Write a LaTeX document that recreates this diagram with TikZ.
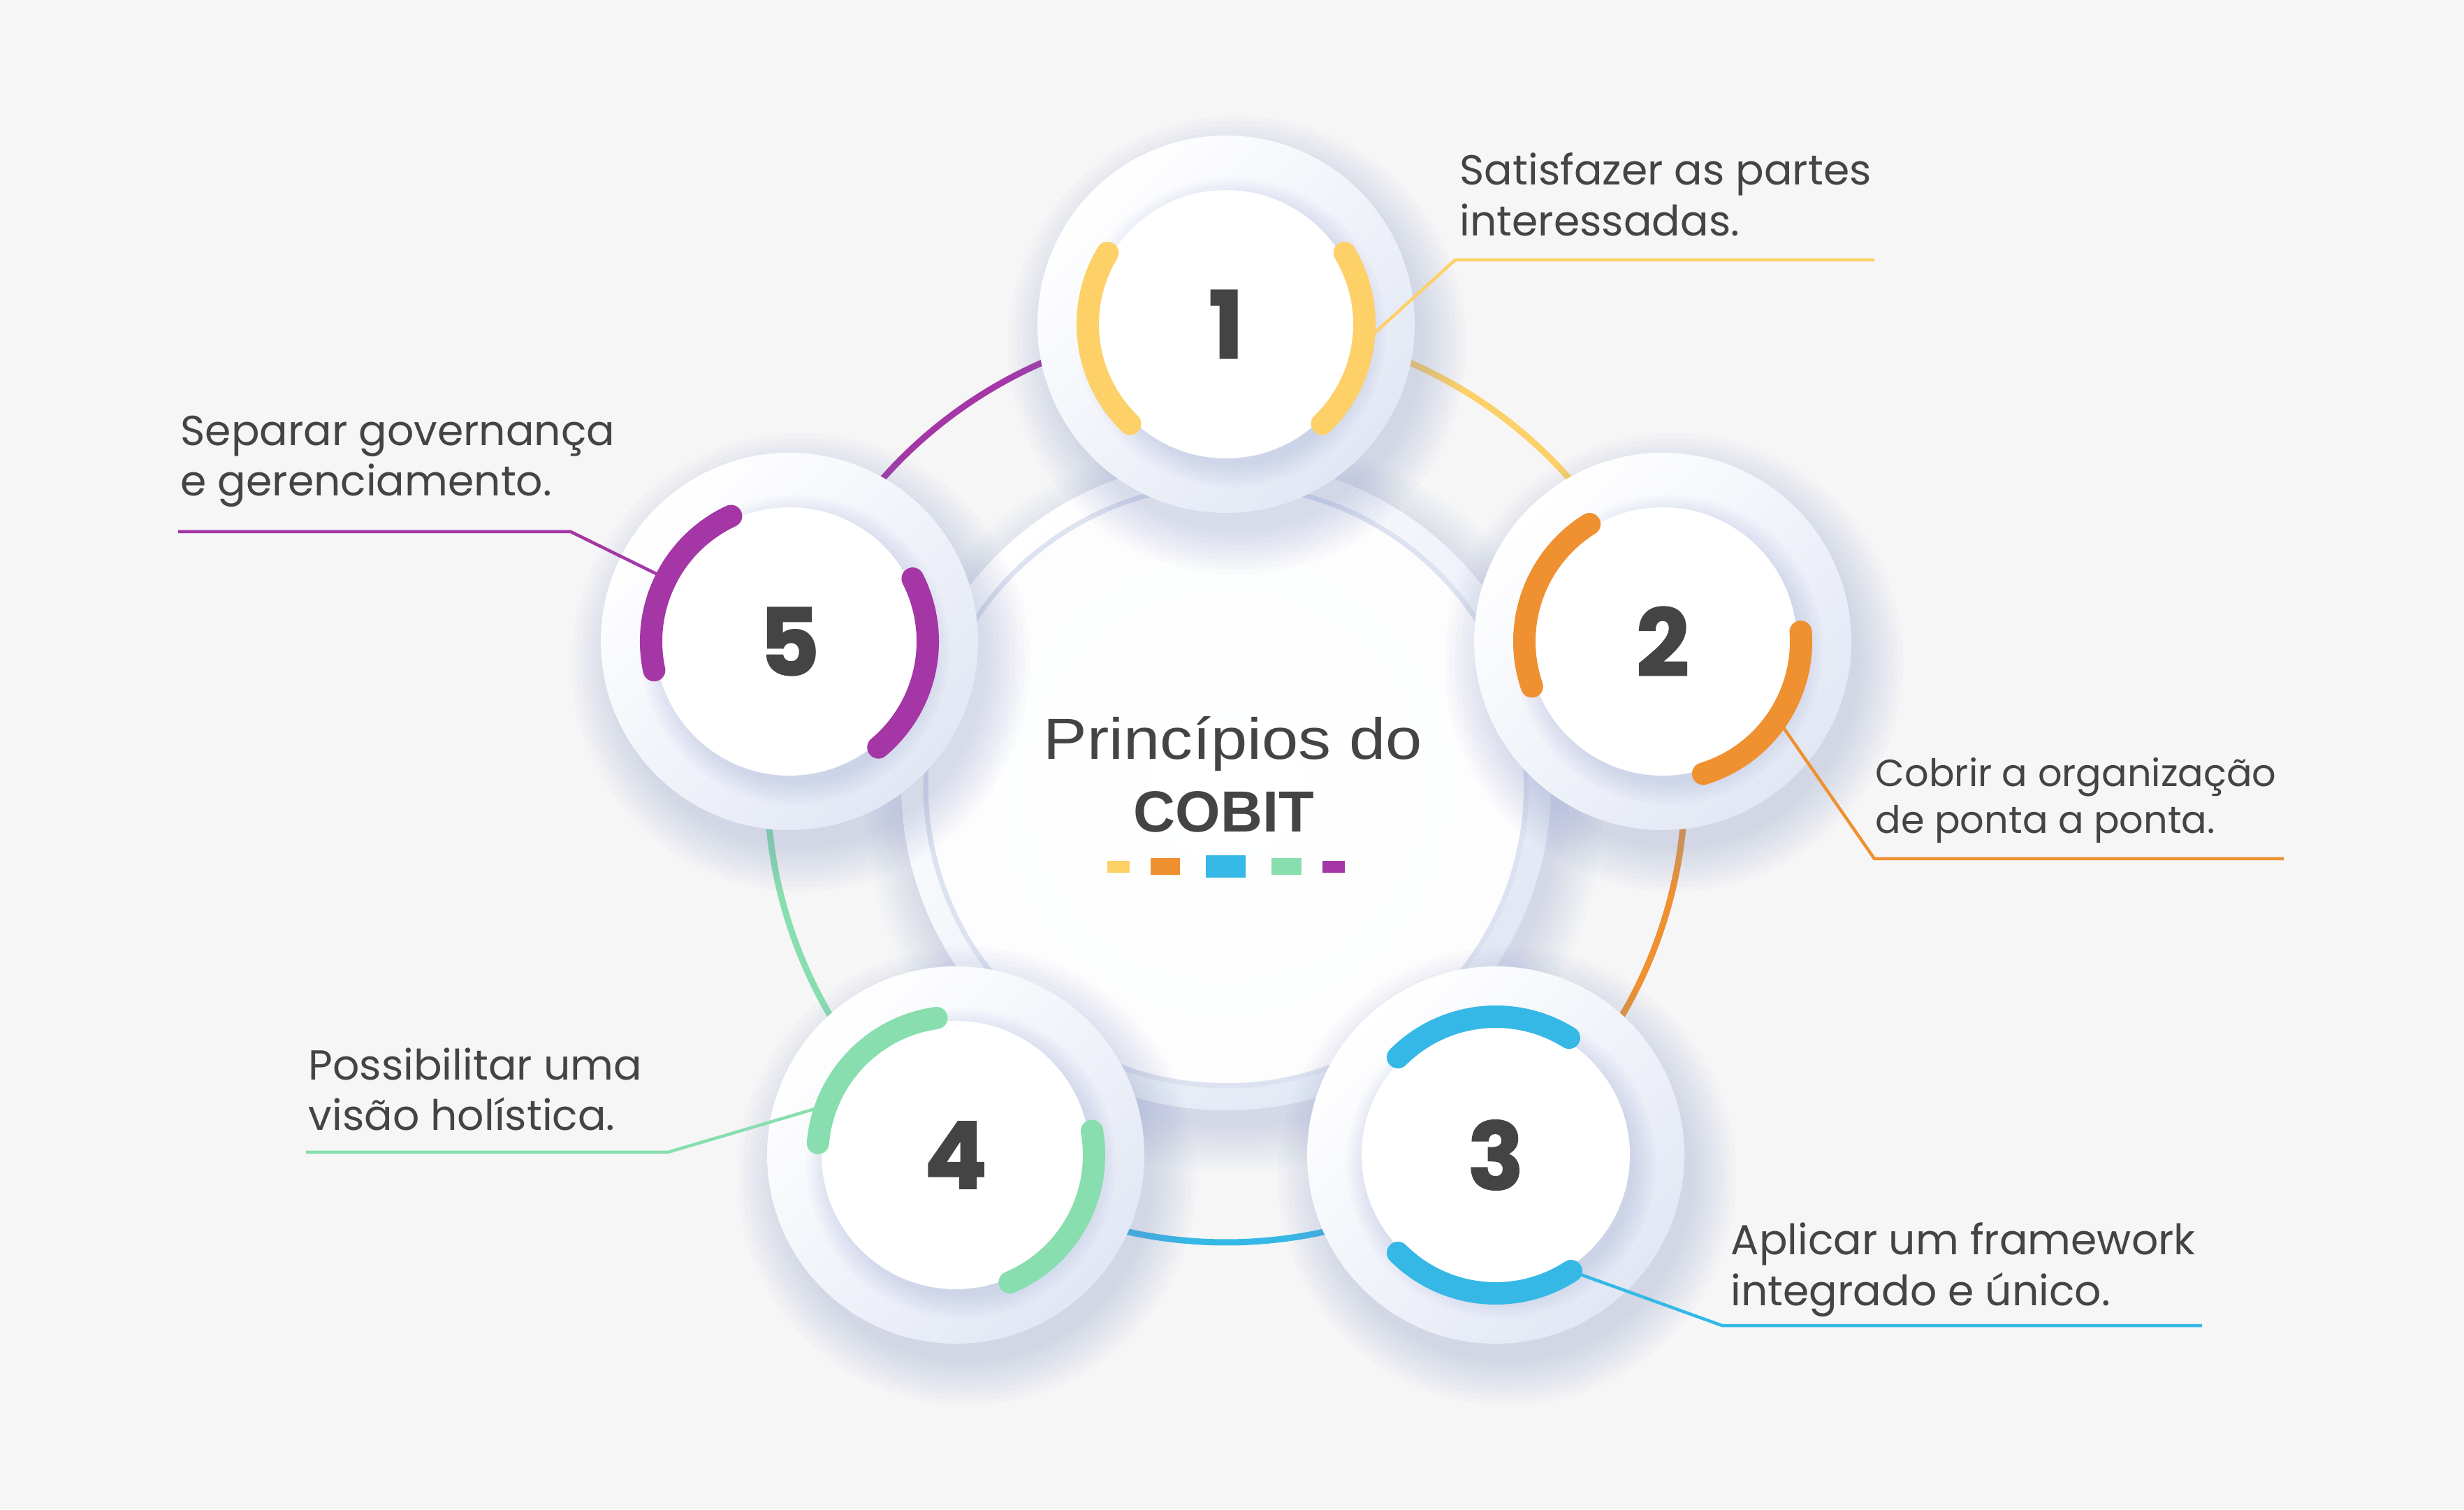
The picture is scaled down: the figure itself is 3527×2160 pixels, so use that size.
\documentclass[tikz,border=0pt]{standalone}
\usepackage{fontspec}
\setmainfont{Liberation Sans}
\newfontfamily\popfont{Poppins}
\newfontfamily\numfont{Poppins}[FakeBold=1.6]
\newfontfamily\arialfont{Liberation Sans}
\usetikzlibrary{calc}
\definecolor{bg}{HTML}{F6F6F7}
\definecolor{cy}{HTML}{FDD068}
\definecolor{co}{HTML}{EF9031}
\definecolor{cb}{HTML}{35B8E5}
\definecolor{cg}{HTML}{88DEAE}
\definecolor{cp}{HTML}{A436A5}
\definecolor{txt}{HTML}{444444}
\definecolor{shad}{HTML}{8090C8}
\definecolor{ringlow}{HTML}{E2E7F4}
\definecolor{ringline}{HTML}{DCE2F0}
\tikzset{
  link/.style={line width=0.09cm},
  lead/.style={line width=0.045cm},
  band/.style={line width=0.32cm, line cap=round},
  lab/.style={anchor=base west, inner sep=0pt, text=txt, font=\popfont\fontsize{17.07pt}{20pt}\selectfont},
  labsmall/.style={anchor=base west, inner sep=0pt, text=txt, font=\popfont\fontsize{15.4pt}{18pt}\selectfont},
  num/.style={inner sep=0pt, text=txt, font=\numfont\bfseries\fontsize{37.8pt}{40pt}\selectfont},
}
\begin{document}
\begin{tikzpicture}[x=0.01cm,y=0.01cm]
\fill[bg] (0,0) rectangle (3527,2160);
\useasboundingbox (0,0) rectangle (3527,2160);
\coordinate (P) at (1755,1039);
\coordinate (M) at (1755,1036);
\coordinate (c1) at (1755,1696);
\coordinate (c2) at (2380,1242);
\coordinate (c3) at (2141,507);
\coordinate (c4) at (1368,507);
\coordinate (c5) at (1130,1242);

% connecting ring
\draw[link,cy] (P) ++(90:657) arc[start angle=90,end angle=18,radius=657];
\draw[link,co] (P) ++(18:657) arc[start angle=18,end angle=-54,radius=657];
\draw[link,cb] (P) ++(-54:657) arc[start angle=-54,end angle=-126,radius=657];
\draw[link,cg] (P) ++(-126:657) arc[start angle=-126,end angle=-198,radius=657];
\draw[link,cp] (P) ++(162:657) arc[start angle=162,end angle=90,radius=657];

% center disc
\foreach \k in {1,...,10}
  \fill[shad,opacity=0.028] ($(M)+(12,-26)$) circle[radius=458+7*\k];
\shade[top color=white,bottom color=ringlow,shading angle=45] (M) circle[radius=465];
\draw[ringline,line width=0.07cm] (M) circle[radius=430];
\shade[inner color=white,outer color=white!92!ringlow] (M) circle[radius=426];

% small circles
\foreach \c in {c1,c2,c3,c4,c5}{
  \foreach \k in {1,...,10}
    \fill[shad,opacity=0.03] ($(\c)+(16,-30)$) circle[radius=258+7*\k];
  \shade[top color=white,bottom color=ringlow,shading angle=45] (\c) circle[radius=270];
  \foreach \k in {1,...,7}
    \fill[shad,opacity=0.035] ($(\c)+(8,-12)$) circle[radius=186+5*\k];
  \fill[white] (\c) circle[radius=192];
}

% leaders
\coordinate (a1) at ($(c1)+(-8:198)$);
\coordinate (k1) at (2083,1788);
\coordinate (e1) at (2683,1788);
\coordinate (a2) at ($(c2)+(-34:198)$);
\coordinate (k2) at (2683,931);
\coordinate (e2) at (3269,931);
\coordinate (a3) at ($(c3)+(-57:198)$);
\coordinate (k3) at (2465,263);
\coordinate (e3) at (3152,263);
\coordinate (a4) at ($(c4)+(159:198)$);
\coordinate (k4) at (956,511);
\coordinate (e4) at (438,511);
\coordinate (a5) at ($(c5)+(153:198)$);
\coordinate (k5) at (817,1399);
\coordinate (e5) at (255,1399);
\draw[lead,cy] (a1) -- (k1) -- (e1);
\draw[lead,co] (a2) -- (k2) -- (e2);
\draw[lead,cb] (a3) -- (k3) -- (e3);
\draw[lead,cg] (a4) -- (k4) -- (e4);
\draw[lead,cp] (a5) -- (k5) -- (e5);

% colored bands
\draw[band,cy] (c1) ++(149:198) arc[start angle=149,end angle=226,radius=198];
\draw[band,cy] (c1) ++(31:198) arc[start angle=31,end angle=-46,radius=198];
\draw[band,co] (c2) ++(122:198) arc[start angle=122,end angle=199,radius=198];
\draw[band,co] (c2) ++(4:198) arc[start angle=4,end angle=-73,radius=198];
\draw[band,cb] (c3) ++(58:198) arc[start angle=58,end angle=135,radius=198];
\draw[band,cb] (c3) ++(-135:198) arc[start angle=-135,end angle=-57,radius=198];
\draw[band,cg] (c4) ++(98:198) arc[start angle=98,end angle=175,radius=198];
\draw[band,cg] (c4) ++(10:198) arc[start angle=10,end angle=-67,radius=198];
\draw[band,cp] (c5) ++(115:198) arc[start angle=115,end angle=192,radius=198];
\draw[band,cp] (c5) ++(27:198) arc[start angle=27,end angle=-50,radius=198];

% numbers
\node[num] (n1) at (c1) {1};
\node[num] (n2) at (c2) {2};
\node[num] (n3) at (c3) {3};
\node[num] (n4) at (c4) {4};
\node[num] (n5) at (c5) {5};

% labels
\node[lab] (t1a) at (2089,1895) {Satisfazer as partes};
\node[lab] (t1b) at (2089,1822) {interessadas.};
\node[labsmall] (t2a) at (2684,1034) {Cobrir a organização};
\node[labsmall] (t2b) at (2684,967) {de ponta a ponta.};
\node[lab] (t3a) at (2477,365) {Aplicar um framework};
\node[lab] (t3b) at (2477,292) {integrado e único.};
\node[lab] (t4a) at (441,614) {Possibilitar uma};
\node[lab] (t4b) at (441,542) {visão holística.};
\node[lab] (t5a) at (258,1522) {Separar governança};
\node[lab] (t5b) at (258,1450) {e gerenciamento.};

% center title
\node[anchor=base, inner sep=0pt, text=txt, font=\arialfont\fontsize{23.6pt}{28pt}\selectfont] (title) at (1765,1073) {\scalebox{1.13}[1]{Princípios do}};
\node[anchor=base, inner sep=0pt, text=txt, font=\arialfont\bfseries\fontsize{23.6pt}{28pt}\selectfont] (cobit) at (1752,969) {COBIT};
\fill[cy] (1585,911) rectangle (1617,928);
\fill[co] (1647,908) rectangle (1689,932);
\fill[cb] (1726,904) rectangle (1783,936);
\fill[cg] (1820,908) rectangle (1863,932);
\fill[cp] (1893,911) rectangle (1925,928);
\end{tikzpicture}
\end{document}
